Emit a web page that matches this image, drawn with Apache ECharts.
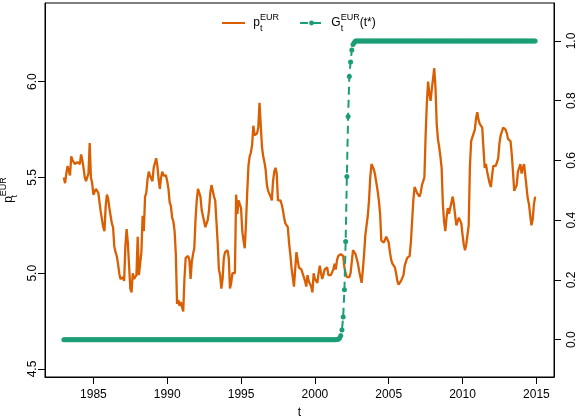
<!DOCTYPE html>
<html><head><meta charset="utf-8">
<script src="https://cdn.jsdelivr.net/npm/echarts@6/dist/echarts.min.js"></script>
<style>html,body{margin:0;padding:0;background:#fff}#c{width:579px;height:419px}</style>
</head><body><div id="c"></div>
<script>
// monthly observations, first month = January 1983
const startYear = 1983;
const pEUR = [
5.50,5.47,5.52,5.56,5.57,5.51,5.61,5.59,5.58,5.57,5.57,5.58,
5.58,5.57,5.62,5.59,5.55,5.50,5.48,5.50,5.52,5.68,5.50,5.47,
5.41,5.40,5.44,5.45,5.42,5.37,5.32,5.28,5.24,5.22,5.35,5.41,
5.39,5.34,5.30,5.26,5.24,5.14,5.11,5.09,5.05,5.00,4.97,4.96,
4.98,4.96,5.14,5.23,5.16,5.04,4.92,4.90,5.00,4.97,4.98,4.99,
5.19,4.99,5.05,5.11,5.30,5.22,5.40,5.42,5.49,5.53,5.51,5.52,
5.48,5.55,5.54,5.60,5.56,5.49,5.44,5.50,5.53,5.51,5.51,5.51,
5.48,5.44,5.37,5.35,5.29,5.27,5.22,5.10,4.84,4.86,4.83,4.85,
4.84,4.80,4.97,5.08,5.09,5.09,5.07,4.97,5.06,5.10,5.13,5.28,
5.38,5.44,5.45,5.40,5.33,5.30,5.30,5.24,5.23,5.28,5.33,5.42,
5.46,5.45,5.40,5.38,5.27,5.16,5.02,4.99,4.92,4.97,5.08,5.11,
5.12,5.12,5.08,4.92,4.95,5.00,5.00,5.00,5.41,5.31,5.38,5.36,
5.34,5.22,5.17,5.13,5.26,5.42,5.56,5.61,5.63,5.67,5.77,5.72,
5.72,5.73,5.76,5.89,5.90,5.66,5.61,5.58,5.54,5.46,5.43,5.42,
5.40,5.38,5.48,5.53,5.55,5.52,5.38,5.37,5.38,5.36,5.33,5.29,
5.26,5.25,5.24,5.16,5.10,5.03,4.98,4.93,5.02,5.11,5.07,5.03,
5.02,5.02,5.01,4.98,4.96,4.93,4.99,4.96,4.95,4.93,4.90,5.00,
4.97,4.96,4.95,5.00,5.04,5.00,4.97,4.98,5.02,5.03,5.03,4.99,
4.99,4.99,4.98,5.02,5.05,5.02,5.07,5.09,5.10,5.10,5.11,5.09,
5.03,5.00,4.98,4.98,4.98,5.00,5.06,5.12,5.11,5.10,5.10,5.05,
5.01,4.98,4.95,5.02,5.10,5.20,5.25,5.30,5.38,5.50,5.57,5.56,
5.54,5.51,5.47,5.43,5.38,5.31,5.17,5.17,5.16,5.16,5.19,5.19,
5.16,5.11,5.07,5.05,5.04,5.03,5.00,4.96,4.94,4.95,4.96,4.96,
4.99,5.04,5.04,5.08,5.09,5.09,5.16,5.27,5.38,5.45,5.44,5.42,
5.41,5.40,5.42,5.46,5.45,5.50,5.72,5.89,6.00,5.94,5.90,5.96,
5.96,6.07,5.97,5.78,5.70,5.66,5.61,5.55,5.36,5.27,5.22,5.29,
5.34,5.31,5.30,5.37,5.40,5.36,5.30,5.25,5.24,5.29,5.29,5.26,
5.20,5.15,5.12,5.15,5.15,5.25,5.56,5.69,5.71,5.71,5.75,5.81,
5.84,5.80,5.78,5.79,5.76,5.65,5.55,5.57,5.53,5.50,5.47,5.45,
5.51,5.56,5.56,5.56,5.55,5.60,5.68,5.72,5.74,5.76,5.77,5.75,
5.73,5.70,5.69,5.69,5.62,5.53,5.43,5.42,5.46,5.53,5.54,5.57,
5.52,5.55,5.57,5.56,5.45,5.39,5.36,5.30,5.25,5.28,5.36,5.40
];
const gEUR = [
0,0,0,0,0,0,0,0,0,0,0,0,
0,0,0,0,0,0,0,0,0,0,0,0,
0,0,0,0,0,0,0,0,0,0,0,0,
0,0,0,0,0,0,0,0,0,0,0,0,
0,0,0,0,0,0,0,0,0,0,0,0,
0,0,0,0,0,0,0,0,0,0,0,0,
0,0,0,0,0,0,0,0,0,0,0,0,
0,0,0,0,0,0,0,0,0,0,0,0,
0,0,0,0,0,0,0,0,0,0,0,0,
0,0,0,0,0,0,0,0,0,0,0,0,
0,0,0,0,0,0,0,0,0,0,0,0,
0,0,0,0,0,0,0,0,0,0,0,0,
0,0,0,0,0,0,0,0,0,0,0,0,
0,0,0,0,0,0,0,0,0,0,0,0,
0,0,0,0,0,0,0,0,0,0,0,0,
0,0,0,0,0,0,0,0,0,0,0,0,
0,0,0,0,0,0,0,0,0,0,0,0,
0,0,0,0,0,0,0,0,0,0,0,0,
0,0,0,0,0,0,0.001,0.002,0.005,0.013,0.033,0.076,
0.167,0.329,0.546,0.747,0.881,0.93,0.97,0.988,0.995,1,1,1,
1,1,1,1,1,1,1,1,1,1,1,1,
1,1,1,1,1,1,1,1,1,1,1,1,
1,1,1,1,1,1,1,1,1,1,1,1,
1,1,1,1,1,1,1,1,1,1,1,1,
1,1,1,1,1,1,1,1,1,1,1,1,
1,1,1,1,1,1,1,1,1,1,1,1,
1,1,1,1,1,1,1,1,1,1,1,1,
1,1,1,1,1,1,1,1,1,1,1,1,
1,1,1,1,1,1,1,1,1,1,1,1,
1,1,1,1,1,1,1,1,1,1,1,1,
1,1,1,1,1,1,1,1,1,1,1,1,
1,1,1,1,1,1,1,1,1,1,1,1
];
const xTicks = [1985, 1990, 1995, 2000, 2005, 2010, 2015];
const leftTicks = [4.5, 5.0, 5.5, 6.0];
const rightTicks = [0.0, 0.2, 0.4, 0.6, 0.8, 1.0];

const ORANGE = '#D95F02', GREEN = '#1B9E77';
const FONT = '"Liberation Sans", Arial, Helvetica, sans-serif';
const rich = {
  m: {fontSize: 12, fontFamily: FONT, color: '#000', lineHeight: 20, verticalAlign: 'middle'},
  sub: {fontSize: 9, fontFamily: FONT, color: '#000', lineHeight: 10, verticalAlign: 'bottom', width: 0},
  sup: {fontSize: 9, fontFamily: FONT, color: '#000', lineHeight: 8, verticalAlign: 'top'}
};
const pData = pEUR.map((v, i) => [startYear + i / 12, v]);
const gData = gEUR.map((v, i) => [startYear + i / 12, v]);

const chart = echarts.init(document.getElementById('c'), null, {renderer: 'canvas'});
const axisCommon = {
  axisLine: {show: true, onZero: false, lineStyle: {color: '#000', width: 1}},
  axisTick: {show: true, length: 7, lineStyle: {color: '#000', width: 1}},
  splitLine: {show: false}
};
chart.setOption({
  animation: false,
  backgroundColor: '#fff',
  grid: {left: 45, right: 25, top: 3, bottom: 42, show: true, borderColor: '#000', borderWidth: 1,
         containLabel: false, outerBoundsMode: 'none'},
  legend: {
    left: 221, top: 13, padding: 0, itemWidth: 23, itemHeight: 6, itemGap: 20,
    data: [{name: 'pEUR', itemStyle: {opacity: 0}}, {name: 'GEUR'}],
    formatter: n => n === 'pEUR' ? ' {m|p}{sub|t}{sup|EUR}' : ' {m|G}{sub|t}{sup|EUR}{m|(t*)}',
    textStyle: {rich: rich, fontFamily: FONT}
  },
  xAxis: Object.assign({}, axisCommon, {
    type: 'value', min: 1981.7233, max: 2016.1933,
    name: 't', nameLocation: 'middle', nameGap: 30,
    nameTextStyle: {fontSize: 12, fontFamily: FONT, color: '#000'},
    axisTick: Object.assign({}, axisCommon.axisTick, {customValues: xTicks}),
    axisLabel: {customValues: xTicks, fontSize: 12, fontFamily: FONT, color: '#000', margin: 12, formatter: v => String(v)}
  }),
  yAxis: [
    Object.assign({}, axisCommon, {
      type: 'value', position: 'left', min: 4.4583, max: 6.4105,
      name: '{m|p}{sub|t}{sup|EUR}', nameLocation: 'middle', nameRotate: 90, nameGap: 17,
      nameTextStyle: {rich: rich},
      axisTick: Object.assign({}, axisCommon.axisTick, {customValues: leftTicks}),
      axisLabel: {customValues: leftTicks, rotate: 90, fontSize: 12, fontFamily: FONT, color: '#000', margin: 6, formatter: v => v.toFixed(1)}
    }),
    Object.assign({}, axisCommon, {
      type: 'value', position: 'right', min: -0.1247, max: 1.1271,
      axisTick: Object.assign({}, axisCommon.axisTick, {customValues: rightTicks}),
      axisLabel: {customValues: rightTicks, rotate: 90, fontSize: 12, fontFamily: FONT, color: '#000', margin: 12, formatter: v => v.toFixed(1)}
    })
  ],
  series: [
    {
      name: 'pEUR', type: 'line', yAxisIndex: 0, data: pData,
      symbol: 'none', lineStyle: {color: ORANGE, width: 2.3}, itemStyle: {color: ORANGE},
      z: 2, silent: true
    },
    {
      name: 'GEUR', type: 'line', yAxisIndex: 1, data: gData,
      symbol: 'circle', symbolSize: 5, showSymbol: true, showAllSymbol: true,
      lineStyle: {color: GREEN, width: 2, type: [8, 5]}, itemStyle: {color: GREEN},
      z: 3, silent: true
    }
  ]
});
</script>
</body></html>
